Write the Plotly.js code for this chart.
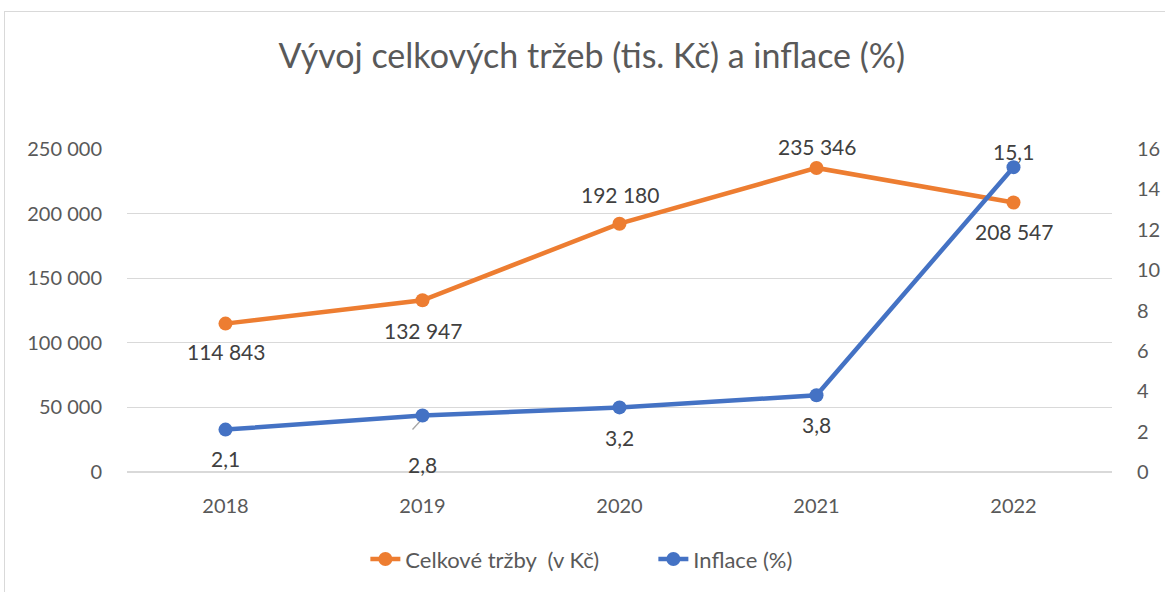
<!DOCTYPE html>
<html><head><meta charset="utf-8">
<script src="https://cdn.plot.ly/plotly-3.0.1.min.js"></script>
<style>html,body{margin:0;padding:0;background:#fff;}#wrap{position:relative;width:1165px;height:592px;}#chart{width:1165px;height:592px;}#border{position:absolute;left:4px;top:11px;width:1170px;height:600px;border:1px solid #d9d9d9;pointer-events:none;}</style>
</head><body>
<div id="wrap"><div id="chart"></div><div id="border"></div></div>
<script>
const years = ['2018','2019','2020','2021','2022'];
const trzby = [114843, 132947, 192180, 235346, 208547];
const inflace = [2.1, 2.8, 3.2, 3.8, 15.1];
const trzbyLabels = ['114 843','132 947','192 180','235 346','208 547'];
const inflaceLabels = ['2,1','2,8','3,2','3,8','15,1'];
// label offsets in pixels (positive = below the point)
const trzbyShift = [28, 30, -29, -21, 29];
const inflaceShift = [29, 49, 30, 29, -16];

const fontFam = 'Lato, "Open Sans", sans-serif';
const labelFont = {family: fontFam, size: 21, color: '#404040'};
const traces = [
  {x: years, y: trzby, name: 'Celkové tržby  (v Kč)', type: 'scatter', mode: 'lines+markers',
   line: {color: '#ED7D31', width: 4.5}, marker: {color: '#ED7D31', size: 14}, yaxis: 'y', cliponaxis: false},
  {x: years, y: inflace, name: 'Inflace (%)', type: 'scatter', mode: 'lines+markers',
   line: {color: '#4472C4', width: 4.5}, marker: {color: '#4472C4', size: 14}, yaxis: 'y2', cliponaxis: false}
];
const annotations = [];
years.forEach((yr, i) => {
  annotations.push({x: i, y: trzby[i], xref: 'x', yref: 'y', text: trzbyLabels[i], showarrow: false,
    yshift: -trzbyShift[i], font: labelFont});
  annotations.push({x: i, y: inflace[i], xref: 'x', yref: 'y2', text: inflaceLabels[i], showarrow: false,
    yshift: -inflaceShift[i], font: labelFont});
});
// leader line for the 2019 inflation label
const shapes = [{type: 'line', xref: 'x', yref: 'y2', xsizemode: 'pixel', ysizemode: 'pixel',
  xanchor: 1, yanchor: inflace[1], x0: -10, x1: 1, y0: -14, y1: -2,
  line: {color: '#a6a6a6', width: 1.3}, layer: 'below'}];
const layout = {
  width: 1165, height: 592,
  separators: ', ',
  paper_bgcolor: '#fff', plot_bgcolor: '#fff',
  margin: {l: 127, r: 53, t: 149, b: 116},
  font: {family: fontFam, color: '#595959'},
  title: {text: 'Vývoj celkových tržeb (tis. Kč) a inflace (%)', x: 0.508, xanchor: 'center', y: 0.905, yanchor: 'middle',
          font: {family: fontFam, size: 34, color: '#595959'}},
  xaxis: {type: 'category', range: [-0.5, 4.5], showgrid: false, zeroline: false, showline: false,
          ticks: 'outside', ticklen: 16, tickcolor: 'rgba(0,0,0,0)',
          tickfont: {family: fontFam, size: 20, color: '#595959'}},
  yaxis: {range: [0, 250000], dtick: 50000, tickformat: ',d', showgrid: true, gridcolor: '#d9d9d9', gridwidth: 1.3,
          zeroline: true, zerolinecolor: '#d9d9d9', zerolinewidth: 1.3, showline: false,
          ticks: 'outside', ticklen: 20, tickcolor: 'rgba(0,0,0,0)',
          tickfont: {family: fontFam, size: 20, color: '#595959'}},
  yaxis2: {range: [0, 16], dtick: 2, overlaying: 'y', side: 'right', showgrid: false, zeroline: false, showline: false,
           ticks: 'outside', ticklen: 20, tickcolor: 'rgba(0,0,0,0)',
           tickfont: {family: fontFam, size: 20, color: '#595959'}},
  annotations: annotations,
  shapes: shapes,
  showlegend: true,
  legend: {orientation: 'h', x: 0.242, xanchor: 'left', y: -0.27, yanchor: 'middle', entrywidth: 243,
           font: {family: fontFam, size: 22, color: '#595959'}}
};
Plotly.newPlot('chart', traces, layout, {displayModeBar: false, staticPlot: true});
</script>
</body></html>
